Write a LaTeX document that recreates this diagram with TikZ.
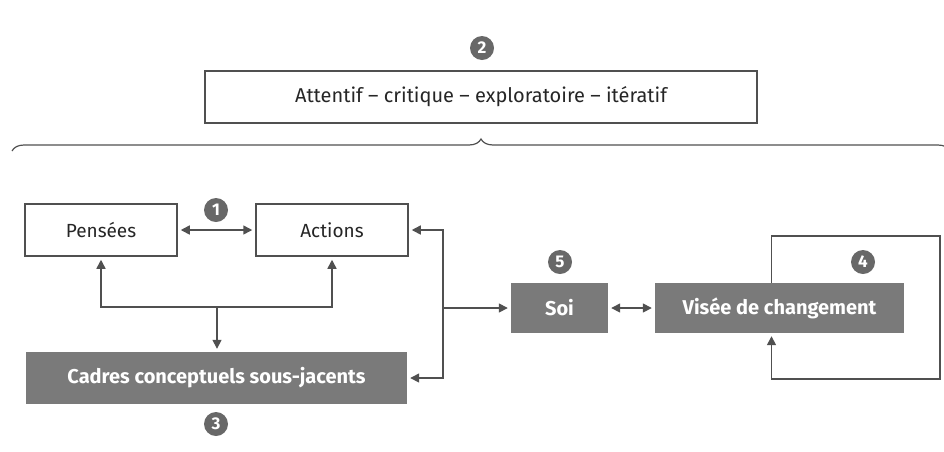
\documentclass[tikz,border=0pt]{standalone}
\usepackage{fontspec}
\setmainfont{Fira Sans}
\usetikzlibrary{decorations.pathreplacing,arrows.meta}
\definecolor{boxgray}{HTML}{7A7A7A}
\definecolor{linegray}{HTML}{505050}
\definecolor{numgray}{HTML}{686868}
\begin{document}
\begin{tikzpicture}[x=1pt,y=-1pt,
  every node/.style={font=\fontsize{19}{22}\selectfont},
  plain/.style={draw=linegray, line width=1.5pt, fill=white, text=black!85,
    minimum height=52pt, inner sep=0pt},
  dark/.style={fill=boxgray, text=white, minimum height=50pt, inner sep=0pt,
    font=\bfseries\fontsize{20}{24}\selectfont},
  num/.style={circle, fill=numgray, text=white, minimum size=24pt, inner sep=0pt,
    font=\bfseries\fontsize{17}{17}\selectfont},
  link/.style={draw=linegray, line width=1.5pt, -{Triangle[length=9pt,width=9pt]},
    shorten >=3pt},
  both/.style={link, {Triangle[length=9pt,width=9pt]}-{Triangle[length=9pt,width=9pt]},
    shorten <=3pt}]
  \useasboundingbox (0,0) rectangle (944,451);
  % boxes
  \node[plain, minimum width=552pt, font=\fontsize{20}{24}\selectfont] (mode) at (481,97) {Attentif -- critique -- exploratoire -- itératif};
  \node[plain, minimum width=152pt] (pens) at (101,230) {Pensées};
  \node[plain, minimum width=152pt] (act) at (332,230) {Actions};
  \node[dark, minimum width=381pt, minimum height=52pt] (cad) at (216.5,378) {Cadres conceptuels sous-jacents};
  \node[dark, minimum width=97pt] (soi) at (559.5,308) {Soi};
  \node[dark, minimum width=249pt] (vis) at (779.5,308) {Visée de changement};
  % numbers
  \node[num] (n1) at (216,210) {1};
  \node[num] (n2) at (482,48) {2};
  \node[num] (n3) at (216,424) {3};
  \node[num] (n4) at (863,262) {4};
  \node[num] (n5) at (560,262) {5};
  % brace
  \draw[linegray, line width=1.2pt, decorate, decoration={brace, amplitude=12pt}]
    (12,151) -- (950,151);
  % links
  \coordinate (fork) at (217,307);
  \coordinate (rfork) at (443,308);
  \draw[both] (pens) -- (act);
  \draw[link] (fork) -| (pens.south);
  \draw[link] (fork) -| (act.south);
  \draw[link] (fork) -- (fork |- cad.north);
  \draw[link] (rfork) |- (act.east);
  \draw[link] (rfork) |- (cad.east);
  \draw[link] (rfork) -- (soi.west);
  \draw[both] (soi) -- (vis);
  \draw[link] ([xshift=-8pt]vis.north) |- (940,236) -- (940,379) -| ([xshift=-8pt]vis.south);
\end{tikzpicture}
\end{document}
